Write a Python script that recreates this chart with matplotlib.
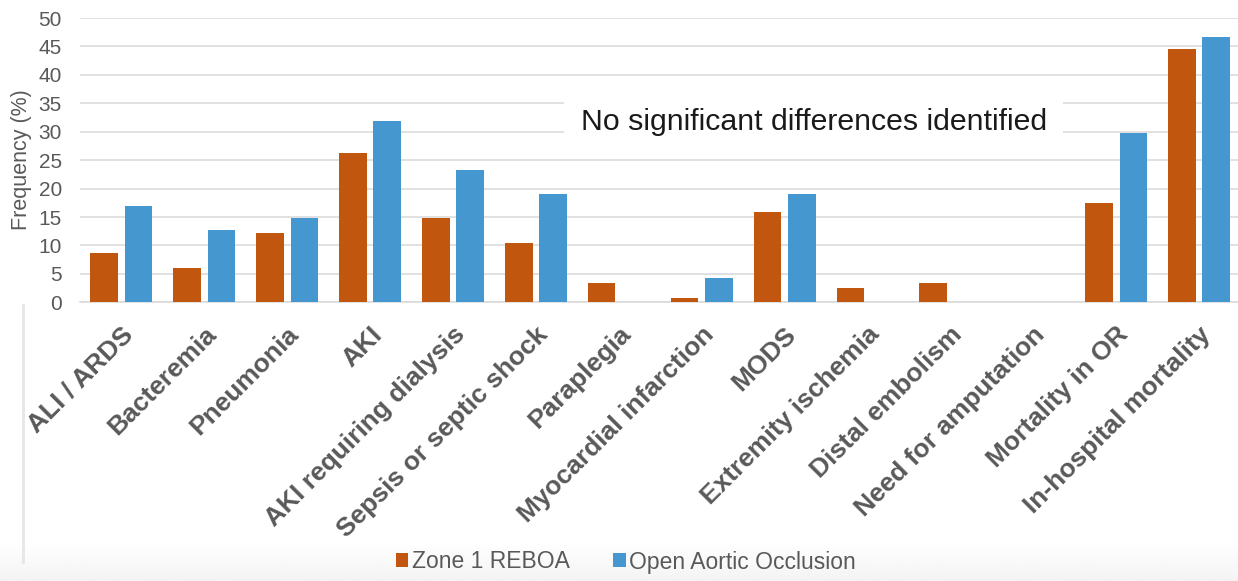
import matplotlib.pyplot as plt
import matplotlib.transforms as mtransforms
from matplotlib.patches import Patch
from matplotlib.lines import Line2D
import numpy as np

categories = ['ALI / ARDS', 'Bacteremia', 'Pneumonia', 'AKI',
              'AKI requiring dialysis', 'Sepsis or septic shock', 'Paraplegia',
              'Myocardial infarction', 'MODS', 'Extremity ischemia',
              'Distal embolism', 'Need for amputation', 'Mortality in OR',
              'In-hospital mortality']
reboa = [8.7, 6.0, 12.2, 26.2, 14.8, 10.4, 3.4, 0.8, 15.8, 2.5, 3.4, 0.0, 17.5, 44.6]
open_occlusion = [16.9, 12.8, 14.9, 31.8, 23.3, 19.0, 0.0, 4.2, 19.0, 0.0, 0.0, 0.0, 29.7, 46.7]
series_names = ['Zone 1 REBOA', 'Open Aortic Occlusion']
yticks = [0, 5, 10, 15, 20, 25, 30, 35, 40, 45, 50]

ORANGE = '#C1570F'
BLUE = '#4597CF'
GRAY_TXT = '#595959'
GRID = '#d9d9d9'

plt.rcParams['font.family'] = ['Liberation Sans', 'DejaVu Sans']

W, H = 1238, 581
fig = plt.figure(figsize=(W / 100, H / 100), dpi=100)

# faint grey band at the foot of the slide
band = fig.add_axes([0, 0, 1, 36 / H], zorder=-2)
grad = np.linspace(0.995, 0.955, 50).reshape(-1, 1)
band.imshow(grad, aspect='auto', cmap='gray', vmin=0, vmax=1,
            extent=[0, 1, 0, 1], origin='upper')
band.axis('off')

ax = fig.add_axes([80 / W, 1 - 302.3 / H, 1160.5 / W, 284.3 / H])
x = np.arange(len(categories))
bw = 0.333
ax.bar(x - 0.207, reboa, bw, color=ORANGE, zorder=3)
ax.bar(x + 0.207, open_occlusion, bw, color=BLUE, zorder=3)

ax.set_xlim(-0.5, len(categories) - 0.5)
ax.set_ylim(0, 50)
ax.set_yticks(yticks)
ax.yaxis.grid(True, color=GRID, linewidth=1.1, zorder=0)
ax.set_axisbelow(True)
for s in ['top', 'right', 'left']:
    ax.spines[s].set_visible(False)
ax.spines['bottom'].set_color(GRID)
ax.spines['bottom'].set_linewidth(1.1)
ax.tick_params(axis='y', length=0, pad=13, labelsize=15, labelcolor=GRAY_TXT)
ax.tick_params(axis='x', length=0, pad=24)

ax.set_xticks(x)
ax.set_xticklabels(categories, rotation=45, ha='right', va='baseline',
                   rotation_mode='anchor', fontsize=19, fontweight='bold',
                   color=GRAY_TXT)
shift = mtransforms.ScaledTranslation(13 / 100, 0, fig.dpi_scale_trans)
for lbl in ax.get_xticklabels():
    lbl.set_transform(lbl.get_transform() + shift)

ax.text(8.35, 31.7, 'No significant differences identified', fontsize=21.8,
        color='#1a1a1a', ha='center', va='center', zorder=2,
        bbox=dict(facecolor='white', edgecolor='none', pad=12))

fig.text(22 / W, 1 - 160 / H, 'Frequency (%)', rotation=90, ha='center',
         va='center', fontsize=15.5, color=GRAY_TXT)

# thin frame line on the left of the slide
fig.add_artist(Line2D([23 / W, 23 / W], [1 - 305 / H, 1 - 562 / H],
                      transform=fig.transFigure, color='#e6e6e6', lw=2))

handles = [Patch(facecolor=ORANGE), Patch(facecolor=BLUE)]
fig.legend(handles, series_names, loc='center', bbox_to_anchor=(626 / W, 1 - 562 / H),
           ncol=2, frameon=False, fontsize=16.5, labelcolor=GRAY_TXT,
           handlelength=0.55, handleheight=0.55, handletextpad=0.15,
           columnspacing=1.9)

fig.savefig('out.png', dpi=100)
